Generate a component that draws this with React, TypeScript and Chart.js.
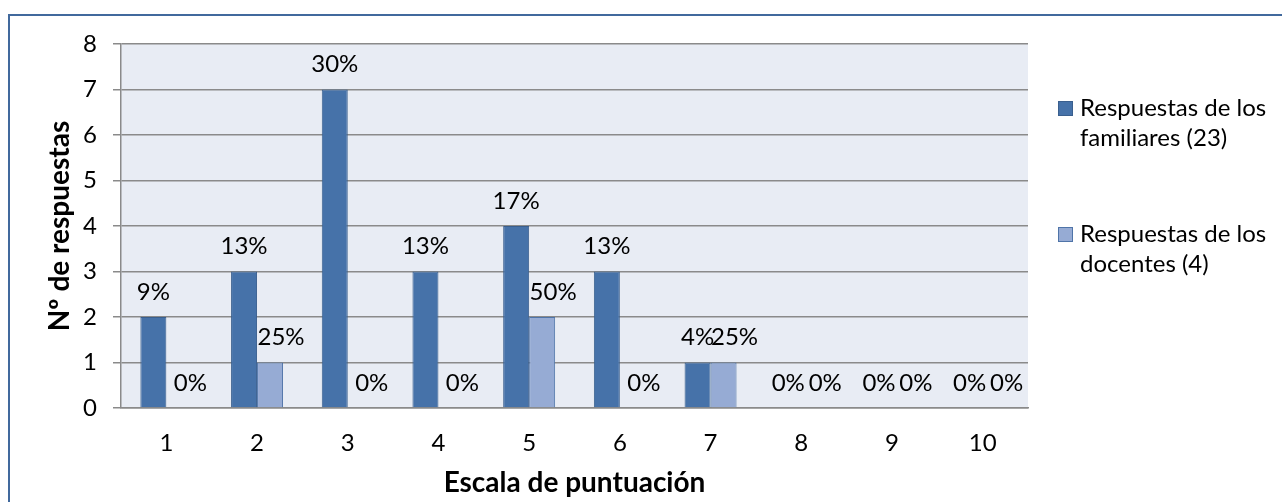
import React, { useEffect, useRef } from "react";
import { Chart, registerables } from "chart.js";

Chart.register(...registerables);

const categories = ["1", "2", "3", "4", "5", "6", "7", "8", "9", "10"];
const familiaresValues = [2, 3, 7, 3, 4, 3, 1, 0, 0, 0];
const docentesValues = [0, 1, 0, 0, 2, 0, 1, 0, 0, 0];
const familiaresPct = [9, 13, 30, 13, 17, 13, 4, 0, 0, 0];
const docentesPct = [0, 25, 0, 0, 50, 0, 25, 0, 0, 0];
const seriesLabels = ["Respuestas de los familiares (23)", "Respuestas de los docentes (4)"];
const yAxisTitle = "Nº de respuestas";
const xAxisTitle = "Escala de puntuación";
const yMin = 0;
const yMax = 8;
const yStep = 1;

const FONT = "Lato";
const darkFill = "#4672a9";
const darkBorder = "#3a5f8e";
const lightFill = "#96abd4";
const lightBorder = "#4f74a8";
const gridColor = "#8a8a8a";
const plotBg = "#e8ecf4";

const plotBgPlugin = {
  id: "plotBg",
  beforeDraw(chart: any) {
    const { ctx, chartArea } = chart;
    ctx.save();
    ctx.fillStyle = plotBg;
    ctx.fillRect(chartArea.left, chartArea.top, chartArea.right - chartArea.left, chartArea.bottom - chartArea.top);
    ctx.restore();
  },
};

const pctLists = [familiaresPct, docentesPct];
const labelShift = [0, 11];

const barLabelPlugin = {
  id: "barLabels",
  afterDatasetsDraw(chart: any) {
    const ctx = chart.ctx;
    ctx.save();
    ctx.font = `24px ${FONT}`;
    ctx.fillStyle = "#000";
    ctx.textAlign = "center";
    ctx.textBaseline = "middle";
    chart.data.datasets.forEach((ds: any, di: number) => {
      const meta = chart.getDatasetMeta(di);
      meta.data.forEach((bar: any, i: number) => {
        const txt = `${pctLists[di][i]}%`;
        ctx.fillText(txt, bar.x + labelShift[di], bar.y - 25);
      });
    });
    ctx.restore();
  },
};

function wrap(ctx: CanvasRenderingContext2D, text: string, maxW: number): string[] {
  const words = text.split(" ");
  const lines: string[] = [];
  let cur = "";
  for (const w of words) {
    const test = cur ? cur + " " + w : w;
    if (ctx.measureText(test).width > maxW && cur) {
      lines.push(cur);
      cur = w;
    } else {
      cur = test;
    }
  }
  if (cur) lines.push(cur);
  return lines;
}

const legendPlugin = {
  id: "sideLegend",
  afterDraw(chart: any) {
    const { ctx, chartArea } = chart;
    ctx.save();
    ctx.font = `24px ${FONT}`;
    ctx.textAlign = "left";
    ctx.textBaseline = "middle";
    const sqX = chartArea.right + 30;
    const textX = sqX + 22;
    const tops = [chartArea.top + 57, chartArea.top + 183];
    chart.data.datasets.forEach((ds: any, di: number) => {
      const top = tops[di];
      ctx.fillStyle = ds.backgroundColor;
      ctx.fillRect(sqX, top, 15, 15);
      ctx.strokeStyle = ds.borderColor;
      ctx.lineWidth = 1;
      ctx.strokeRect(sqX + 0.5, top + 0.5, 14, 14);
      ctx.fillStyle = "#000";
      const lines = wrap(ctx, ds.label, chart.width - textX - 2);
      lines.forEach((ln, li) => {
        ctx.fillText(ln, textX, top + 7.5 + li * 30);
      });
    });
    ctx.restore();
  },
};

export default function App() {
  const ref = useRef<HTMLCanvasElement | null>(null);

  useEffect(() => {
    if (!ref.current) return;
    const tickFont = { family: FONT, size: 24 };
    const titleFont = { family: FONT, size: 28, weight: "bold" as const };
    const chart = new Chart(ref.current, {
      type: "bar",
      data: {
        labels: categories,
        datasets: [
          {
            label: seriesLabels[0],
            data: familiaresValues,
            backgroundColor: darkFill,
            borderColor: darkBorder,
            borderWidth: 1,
            categoryPercentage: 0.573,
            barPercentage: 1,
          },
          {
            label: seriesLabels[1],
            data: docentesValues,
            backgroundColor: lightFill,
            borderColor: lightBorder,
            borderWidth: 1,
            categoryPercentage: 0.573,
            barPercentage: 1,
          },
        ],
      },
      options: {
        animation: false,
        responsive: false,
        devicePixelRatio: 1,
        layout: { padding: { top: 44, right: 254, bottom: 0, left: 0 } },
        plugins: {
          legend: { display: false },
          tooltip: { enabled: false },
        },
        scales: {
          x: {
            grid: { display: false, drawTicks: false },
            border: { display: true, color: gridColor, width: 1.5 },
            ticks: { padding: 21, color: "#000", font: tickFont },
            title: {
              display: true,
              text: xAxisTitle,
              color: "#000",
              font: titleFont,
              padding: { top: 0, bottom: 2 },
            },
            afterFit: (s: any) => {
              s.height = 94;
            },
          },
          y: {
            min: yMin,
            max: yMax,
            ticks: { stepSize: yStep, padding: 16, color: "#000", font: tickFont },
            grid: { color: gridColor, lineWidth: 1.5, tickLength: 8, drawTicks: true },
            border: { display: true, color: gridColor, width: 1.5 },
            title: {
              display: true,
              text: yAxisTitle,
              color: "#000",
              font: titleFont,
              padding: { top: 43, bottom: 0 },
            },
            afterFit: (s: any) => {
              s.width = 121;
            },
          },
        },
      } as any,
      plugins: [plotBgPlugin, barLabelPlugin, legendPlugin],
    });
    return () => chart.destroy();
  }, []);

  return (
    <div
      style={{
        position: "fixed",
        left: 0,
        top: 0,
        width: 1282,
        height: 502,
        overflow: "hidden",
        background: "#fff",
      }}
    >
      <div
        style={{
          position: "absolute",
          left: 8,
          top: 14,
          width: 1400,
          height: 600,
          border: "2px solid #41699d",
        }}
      />
      <canvas
        ref={ref}
        width={1282}
        height={502}
        style={{ position: "absolute", left: 0, top: 0, width: 1282, height: 502 }}
      />
    </div>
  );
}
